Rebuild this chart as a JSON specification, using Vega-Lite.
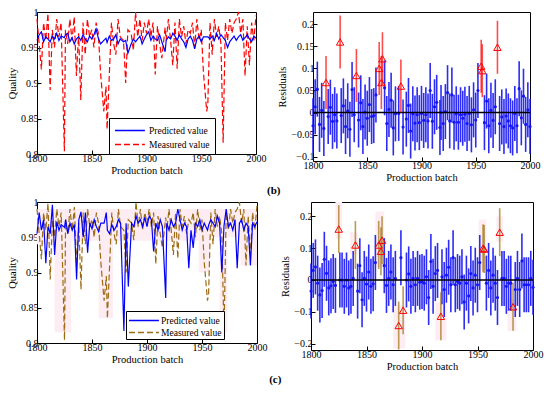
{
  "$schema": "https://vega.github.io/schema/vega-lite/v6.json",
  "background": "white",
  "padding": {"left": 7, "top": 6, "right": 4, "bottom": 2},
  "config": {
    "view": {"stroke": "black", "strokeWidth": 1},
    "font": "Liberation Serif",
    "axis": {
      "labelFont": "Liberation Serif", "titleFont": "Liberation Serif",
      "labelFontSize": 10, "titleFontSize": 10.5, "titleFontWeight": "normal",
      "labelColor": "black", "titleColor": "black", "grid": false, "domain": false,
      "tickColor": "black", "tickSize": -4, "labelPadding": 3, "titlePadding": 3,
      "labelFlush": false, "labelOverlap": false, "labelBound": false
    },
    "axisX": {"titlePadding": 2},
    "legend": {"labelFont": "Liberation Serif", "labelFontSize": 9.5, "labelColor": "black"}
  },
  "resolve": {"scale": {"color": "independent", "strokeDash": "independent"}, "legend": {"color": "independent", "strokeDash": "independent"}},
  "datasets": {
    "main": [
      {"b":1800,"m":0.990,"p1":0.960,"p2":0.955,"r1":-0.030,"r2":-0.035},
      {"b":1802,"m":0.955,"p1":0.968,"p2":0.985,"r1":0.013,"r2":0.030},
      {"b":1804,"m":0.919,"p1":0.972,"p2":0.960,"r1":0.053,"r2":0.041},
      {"b":1806,"m":0.985,"p1":0.958,"p2":0.975,"r1":-0.027,"r2":-0.010},
      {"b":1808,"m":0.960,"p1":0.965,"p2":0.913,"r1":0.005,"r2":-0.047},
      {"b":1810,"m":0.998,"p1":0.962,"p2":0.965,"r1":-0.036,"r2":-0.033},
      {"b":1812,"m":0.890,"p1":0.958,"p2":0.955,"r1":null,"r2":0.065},
      {"b":1814,"m":0.975,"p1":0.966,"p2":0.996,"r1":-0.009,"r2":0.021},
      {"b":1816,"m":0.950,"p1":0.962,"p2":0.925,"r1":0.012,"r2":-0.025},
      {"b":1818,"m":0.990,"p1":0.970,"p2":0.972,"r1":-0.020,"r2":-0.018},
      {"b":1820,"m":0.965,"p1":0.960,"p2":0.960,"r1":-0.005,"r2":-0.005},
      {"b":1822,"m":0.985,"p1":0.966,"p2":0.968,"r1":-0.019,"r2":-0.017},
      {"b":1825,"m":0.804,"p1":0.964,"p2":0.964,"r1":null,"r2":null},
      {"b":1826,"m":0.975,"p1":0.968,"p2":0.975,"r1":-0.007,"r2":0.000},
      {"b":1828,"m":0.955,"p1":0.970,"p2":0.955,"r1":0.015,"r2":0.000},
      {"b":1830,"m":0.990,"p1":0.958,"p2":0.970,"r1":-0.032,"r2":-0.020},
      {"b":1832,"m":0.960,"p1":0.964,"p2":0.960,"r1":0.004,"r2":0.000},
      {"b":1834,"m":0.993,"p1":0.955,"p2":0.968,"r1":-0.038,"r2":-0.025},
      {"b":1836,"m":0.910,"p1":0.962,"p2":0.890,"r1":0.052,"r2":-0.020},
      {"b":1838,"m":0.970,"p1":0.965,"p2":0.975,"r1":-0.005,"r2":0.005},
      {"b":1840,"m":0.876,"p1":0.960,"p2":0.986,"r1":null,"r2":null},
      {"b":1842,"m":0.985,"p1":0.968,"p2":0.950,"r1":-0.017,"r2":-0.035},
      {"b":1844,"m":0.940,"p1":0.962,"p2":0.985,"r1":0.022,"r2":0.045},
      {"b":1846,"m":0.990,"p1":0.958,"p2":0.928,"r1":-0.032,"r2":-0.062},
      {"b":1848,"m":0.965,"p1":0.966,"p2":0.970,"r1":0.001,"r2":0.005},
      {"b":1850,"m":0.975,"p1":0.962,"p2":0.962,"r1":-0.013,"r2":-0.013},
      {"b":1852,"m":0.950,"p1":0.968,"p2":0.975,"r1":0.018,"r2":0.025},
      {"b":1854,"m":0.985,"p1":0.976,"p2":0.965,"r1":-0.009,"r2":-0.020},
      {"b":1856,"m":0.970,"p1":0.963,"p2":0.958,"r1":-0.007,"r2":-0.012},
      {"b":1858,"m":0.915,"p1":0.955,"p2":0.970,"r1":0.040,"r2":0.055},
      {"b":1861,"m":0.860,"p1":0.960,"p2":0.970,"r1":null,"r2":null},
      {"b":1863,"m":0.895,"p1":0.963,"p2":0.985,"r1":null,"r2":null},
      {"b":1864,"m":0.835,"p1":0.957,"p2":0.960,"r1":null,"r2":null},
      {"b":1866,"m":0.910,"p1":0.966,"p2":0.955,"r1":0.056,"r2":0.045},
      {"b":1868,"m":0.985,"p1":0.960,"p2":0.968,"r1":-0.025,"r2":-0.017},
      {"b":1870,"m":0.955,"p1":0.962,"p2":0.960,"r1":0.007,"r2":0.005},
      {"b":1872,"m":0.940,"p1":0.968,"p2":0.965,"r1":0.028,"r2":0.025},
      {"b":1874,"m":0.990,"p1":0.955,"p2":0.975,"r1":-0.035,"r2":-0.015},
      {"b":1876,"m":0.965,"p1":0.962,"p2":0.970,"r1":-0.003,"r2":0.005},
      {"b":1879,"m":0.960,"p1":0.958,"p2":0.817,"r1":-0.002,"r2":null},
      {"b":1881,"m":0.900,"p1":0.960,"p2":0.970,"r1":null,"r2":0.070},
      {"b":1883,"m":0.975,"p1":0.942,"p2":0.880,"r1":-0.033,"r2":null},
      {"b":1886,"m":0.970,"p1":0.955,"p2":0.970,"r1":-0.015,"r2":0.000},
      {"b":1888,"m":0.946,"p1":0.962,"p2":0.965,"r1":0.016,"r2":0.019},
      {"b":1890,"m":1.000,"p1":0.958,"p2":0.980,"r1":-0.042,"r2":-0.020},
      {"b":1892,"m":0.965,"p1":0.962,"p2":0.970,"r1":-0.003,"r2":0.005},
      {"b":1894,"m":0.990,"p1":0.966,"p2":0.975,"r1":-0.024,"r2":-0.015},
      {"b":1896,"m":0.960,"p1":0.955,"p2":0.965,"r1":-0.005,"r2":0.005},
      {"b":1898,"m":0.985,"p1":0.962,"p2":0.978,"r1":-0.023,"r2":-0.007},
      {"b":1900,"m":0.970,"p1":0.968,"p2":0.965,"r1":-0.002,"r2":-0.005},
      {"b":1902,"m":0.990,"p1":0.972,"p2":0.980,"r1":-0.018,"r2":-0.010},
      {"b":1904,"m":0.965,"p1":0.960,"p2":0.975,"r1":-0.005,"r2":0.010},
      {"b":1906,"m":0.985,"p1":0.966,"p2":0.930,"r1":-0.019,"r2":-0.055},
      {"b":1908,"m":0.912,"p1":0.962,"p2":0.970,"r1":0.050,"r2":0.058},
      {"b":1910,"m":0.980,"p1":0.960,"p2":0.960,"r1":-0.020,"r2":-0.020},
      {"b":1912,"m":0.955,"p1":0.968,"p2":0.975,"r1":0.013,"r2":0.020},
      {"b":1914,"m":0.935,"p1":0.958,"p2":0.965,"r1":0.023,"r2":0.030},
      {"b":1917,"m":0.978,"p1":0.944,"p2":0.864,"r1":-0.034,"r2":null},
      {"b":1918,"m":0.960,"p1":0.960,"p2":0.970,"r1":0.000,"r2":0.010},
      {"b":1920,"m":0.990,"p1":0.965,"p2":0.960,"r1":-0.025,"r2":-0.030},
      {"b":1922,"m":0.960,"p1":0.962,"p2":0.975,"r1":0.002,"r2":0.015},
      {"b":1924,"m":0.925,"p1":0.970,"p2":0.965,"r1":0.045,"r2":0.040},
      {"b":1926,"m":0.985,"p1":0.966,"p2":0.970,"r1":-0.019,"r2":-0.015},
      {"b":1928,"m":0.920,"p1":0.960,"p2":0.990,"r1":0.040,"r2":0.070},
      {"b":1930,"m":0.990,"p1":0.968,"p2":0.975,"r1":-0.022,"r2":-0.015},
      {"b":1932,"m":0.965,"p1":0.962,"p2":0.960,"r1":-0.003,"r2":-0.005},
      {"b":1934,"m":0.980,"p1":0.958,"p2":0.970,"r1":-0.022,"r2":-0.010},
      {"b":1936,"m":0.955,"p1":0.950,"p2":0.965,"r1":-0.005,"r2":0.010},
      {"b":1938,"m":0.975,"p1":0.962,"p2":0.906,"r1":-0.013,"r2":-0.069},
      {"b":1940,"m":0.970,"p1":0.966,"p2":0.960,"r1":-0.004,"r2":-0.010},
      {"b":1942,"m":0.985,"p1":0.960,"p2":0.935,"r1":-0.025,"r2":-0.050},
      {"b":1944,"m":0.950,"p1":0.948,"p2":0.970,"r1":-0.002,"r2":0.020},
      {"b":1946,"m":0.990,"p1":0.962,"p2":0.965,"r1":-0.028,"r2":-0.025},
      {"b":1948,"m":0.960,"p1":0.966,"p2":0.975,"r1":0.006,"r2":0.015},
      {"b":1950,"m":0.975,"p1":0.958,"p2":0.960,"r1":-0.017,"r2":-0.015},
      {"b":1952,"m":0.915,"p1":0.965,"p2":0.970,"r1":0.050,"r2":0.055},
      {"b":1955,"m":0.860,"p1":0.965,"p2":0.960,"r1":null,"r2":null},
      {"b":1956,"m":0.870,"p1":0.965,"p2":0.967,"r1":null,"r2":null},
      {"b":1958,"m":0.985,"p1":0.962,"p2":0.975,"r1":-0.023,"r2":-0.010},
      {"b":1960,"m":0.940,"p1":0.966,"p2":0.970,"r1":0.026,"r2":0.030},
      {"b":1962,"m":0.990,"p1":0.960,"p2":0.965,"r1":-0.030,"r2":-0.025},
      {"b":1964,"m":0.965,"p1":0.970,"p2":0.980,"r1":0.005,"r2":0.015},
      {"b":1966,"m":0.980,"p1":0.962,"p2":0.970,"r1":-0.018,"r2":-0.010},
      {"b":1968,"m":0.955,"p1":0.968,"p2":0.900,"r1":0.013,"r2":-0.055},
      {"b":1970,"m":0.816,"p1":0.964,"p2":0.966,"r1":null,"r2":null},
      {"b":1972,"m":0.985,"p1":0.960,"p2":0.990,"r1":-0.025,"r2":0.005},
      {"b":1974,"m":0.960,"p1":0.950,"p2":0.965,"r1":-0.010,"r2":0.005},
      {"b":1976,"m":0.990,"p1":0.958,"p2":0.970,"r1":-0.032,"r2":-0.020},
      {"b":1978,"m":0.970,"p1":0.962,"p2":0.960,"r1":-0.008,"r2":-0.010},
      {"b":1980,"m":0.985,"p1":0.966,"p2":0.975,"r1":-0.019,"r2":-0.010},
      {"b":1982,"m":0.990,"p1":0.960,"p2":0.906,"r1":-0.030,"r2":null},
      {"b":1984,"m":1.000,"p1":0.965,"p2":0.970,"r1":-0.035,"r2":-0.030},
      {"b":1986,"m":0.970,"p1":0.968,"p2":0.975,"r1":-0.002,"r2":0.005},
      {"b":1988,"m":0.990,"p1":0.960,"p2":0.960,"r1":-0.030,"r2":-0.030},
      {"b":1990,"m":0.910,"p1":0.964,"p2":0.970,"r1":0.054,"r2":0.060},
      {"b":1992,"m":0.980,"p1":0.968,"p2":0.965,"r1":-0.012,"r2":-0.015},
      {"b":1994,"m":0.925,"p1":0.962,"p2":0.910,"r1":0.037,"r2":-0.015},
      {"b":1996,"m":0.985,"p1":0.958,"p2":0.970,"r1":-0.027,"r2":-0.015},
      {"b":1998,"m":0.960,"p1":0.966,"p2":0.965,"r1":0.006,"r2":0.005},
      {"b":2000,"m":0.995,"p1":0.963,"p2":0.972,"r1":-0.032,"r2":-0.023}
    ],
    "out1": [
      {"b":1812,"r1":0.068},{"b":1825,"r1":0.160},{"b":1840,"r1":0.084},{"b":1861,"r1":0.100},
      {"b":1863,"r1":0.068},{"b":1864,"r1":0.122},{"b":1881,"r1":0.060},{"b":1955,"r1":0.105},
      {"b":1956,"r1":0.095},{"b":1970,"r1":0.148}
    ],
    "out2": [
      {"b":1825,"r2":0.160},{"b":1840,"r2":0.110},{"b":1861,"r2":0.110},{"b":1863,"r2":0.090},
      {"b":1864,"r2":0.125},{"b":1879,"r2":-0.143},{"b":1883,"r2":-0.095},{"b":1917,"r2":-0.114},
      {"b":1955,"r2":0.100},{"b":1956,"r2":0.097},{"b":1970,"r2":0.150},{"b":1982,"r2":-0.084}
    ],
    "pink3": [
      {"b":1800,"b2":1816,"value":0.94,"value2":0.99},
      {"b":1816,"b2":1831,"value":0.815,"value2":0.99},
      {"b":1831,"b2":1856,"value":0.945,"value2":0.99},
      {"b":1856,"b2":1869,"value":0.835,"value2":0.99},
      {"b":1869,"b2":1947,"value":0.945,"value2":0.99},
      {"b":1947,"b2":1957,"value":0.90,"value2":0.99},
      {"b":1957,"b2":1966,"value":0.95,"value2":0.99},
      {"b":1966,"b2":1973,"value":0.815,"value2":0.99},
      {"b":1973,"b2":1985,"value":0.95,"value2":0.99},
      {"b":1985,"b2":2000,"value":0.91,"value2":0.99}
    ],
    "pink4": [
      {"b":1822,"b2":1828,"r2":0.13,"r2b":0.245},
      {"b":1835,"b2":1842,"r2":0.08,"r2b":0.15},
      {"b":1858,"b2":1866,"r2":0.04,"r2b":0.215},
      {"b":1874,"b2":1885,"r2":-0.215,"r2b":-0.08},
      {"b":1912,"b2":1922,"r2":-0.19,"r2b":-0.07},
      {"b":1951,"b2":1958,"r2":0.03,"r2b":0.19},
      {"b":1967,"b2":1973,"r2":0.12,"r2b":0.2},
      {"b":1977,"b2":1985,"r2":-0.16,"r2b":-0.06}
    ],
    "zero": [{"z": 0}]
  },
  "spacing": 0,
  "vconcat": [
    {
      "spacing": 10,
      "resolve": {"scale": {"color": "independent", "strokeDash": "independent"}, "legend": {"color": "independent", "strokeDash": "independent"}},
      "title": {"text": "(b)", "orient": "bottom", "anchor": "middle", "font": "Liberation Serif", "fontSize": 11, "fontWeight": "bold", "offset": 2},
      "hconcat": [
        {
          "width": 219, "height": 142,
          "data": {"name": "main"},
          "transform": [{"fold": ["m", "p1"], "as": ["series", "value"]}],
          "mark": {"type": "line", "strokeWidth": 1.2},
          "encoding": {
            "x": {"field": "b", "type": "quantitative", "scale": {"domain": [1800, 2000], "nice": false, "zero": false}, "axis": {"title": "Production batch", "values": [1800, 1850, 1900, 1950, 2000], "format": "d"}},
            "y": {"field": "value", "type": "quantitative", "scale": {"domain": [0.8, 1], "nice": false, "zero": false}, "axis": {"title": "Quality", "values": [0.8, 0.85, 0.9, 0.95, 1], "format": "~g"}},
            "color": {"field": "series", "type": "nominal", "scale": {"domain": ["p1", "m"], "range": ["#0000ff", "#ff0000"]},
              "legend": {"title": null, "orient": "none", "legendX": 72, "legendY": 106, "strokeColor": "black", "fillColor": "white", "padding": 5, "rowPadding": 2, "labelOffset": 20,
                "labelExpr": "datum.label == 'p1' ? 'Predicted value' : 'Measured value'", "symbolType": "M-1,0H3.6", "symbolSize": 169, "symbolStrokeWidth": 1.5,
                "encode": {"symbols": {"update": {"strokeDash": {"signal": "datum.value == 'm' ? [6, 3] : [1, 0]"}}}}}},
            "strokeDash": {"field": "series", "type": "nominal", "scale": {"domain": ["p1", "m"], "range": [[1, 0], [6, 3]]}, "legend": null}
          }
        },
        {
          "width": 217, "height": 149,
          "layer": [
            {
              "data": {"name": "main"},
              "mark": {"type": "tick", "orient": "vertical", "size": 55, "thickness": 1.6, "color": "#1515f5", "opacity": 0.9},
              "encoding": {
                "x": {"field": "b", "type": "quantitative", "scale": {"domain": [1800, 2000], "nice": false, "zero": false}, "axis": {"title": "Production batch", "values": [1800, 1850, 1900, 1950, 2000], "format": "d"}},
                "y": {"field": "r1", "type": "quantitative", "scale": {"domain": [-0.11, 0.228], "nice": false, "zero": false}, "axis": {"title": "Residuals", "values": [-0.1, -0.05, 0, 0.05, 0.1, 0.15, 0.2], "format": "~g"}}
              }
            },
            {
              "data": {"name": "main"},
              "mark": {"type": "point", "filled": true, "size": 10, "color": "#1515f5", "opacity": 1},
              "encoding": {
                "x": {"field": "b", "type": "quantitative", "scale": {"domain": [1800, 2000], "nice": false, "zero": false}, "axis": {"title": "Production batch", "values": [1800, 1850, 1900, 1950, 2000], "format": "d"}},
                "y": {"field": "r1", "type": "quantitative", "scale": {"domain": [-0.11, 0.228], "nice": false, "zero": false}, "axis": {"title": "Residuals", "values": [-0.1, -0.05, 0, 0.05, 0.1, 0.15, 0.2], "format": "~g"}}
              }
            },
            {
              "data": {"name": "zero"},
              "mark": {"type": "rule", "color": "black", "strokeWidth": 1.3},
              "encoding": {
                "y": {"field": "z", "type": "quantitative", "scale": {"domain": [-0.11, 0.228], "nice": false, "zero": false}, "axis": {"title": "Residuals", "values": [-0.1, -0.05, 0, 0.05, 0.1, 0.15, 0.2], "format": "~g"}}
              }
            },
            {
              "data": {"name": "out1"},
              "mark": {"type": "tick", "orient": "vertical", "size": 53, "thickness": 1.6, "color": "#ff0000"},
              "encoding": {
                "x": {"field": "b", "type": "quantitative", "scale": {"domain": [1800, 2000], "nice": false, "zero": false}, "axis": {"title": "Production batch", "values": [1800, 1850, 1900, 1950, 2000], "format": "d"}},
                "y": {"field": "r1", "type": "quantitative", "scale": {"domain": [-0.11, 0.228], "nice": false, "zero": false}, "axis": {"title": "Residuals", "values": [-0.1, -0.05, 0, 0.05, 0.1, 0.15, 0.2], "format": "~g"}}
              }
            },
            {
              "data": {"name": "out1"},
              "mark": {"type": "point", "shape": "triangle-up", "filled": false, "size": 55, "color": "#ff0000", "strokeWidth": 1, "opacity": 1},
              "encoding": {
                "x": {"field": "b", "type": "quantitative", "scale": {"domain": [1800, 2000], "nice": false, "zero": false}, "axis": {"title": "Production batch", "values": [1800, 1850, 1900, 1950, 2000], "format": "d"}},
                "y": {"field": "r1", "type": "quantitative", "scale": {"domain": [-0.11, 0.228], "nice": false, "zero": false}, "axis": {"title": "Residuals", "values": [-0.1, -0.05, 0, 0.05, 0.1, 0.15, 0.2], "format": "~g"}}
              }
            }
          ]
        }
      ]
    },
    {
      "spacing": 12,
      "resolve": {"scale": {"color": "independent", "strokeDash": "independent"}, "legend": {"color": "independent", "strokeDash": "independent"}},
      "title": {"text": "(c)", "orient": "bottom", "anchor": "middle", "font": "Liberation Serif", "fontSize": 11, "fontWeight": "bold", "offset": 2},
      "hconcat": [
        {
          "width": 220, "height": 141,
          "layer": [
            {
              "data": {"name": "pink3"},
              "mark": {"type": "rect", "color": "#fdedf3"},
              "encoding": {
                "x": {"field": "b", "type": "quantitative", "scale": {"domain": [1800, 2000], "nice": false, "zero": false}, "axis": {"title": "Production batch", "values": [1800, 1850, 1900, 1950, 2000], "format": "d"}},
                "x2": {"field": "b2"},
                "y": {"field": "value", "type": "quantitative", "scale": {"domain": [0.8, 1], "nice": false, "zero": false}, "axis": {"title": "Quality", "values": [0.8, 0.85, 0.9, 0.95, 1], "format": "~g"}},
                "y2": {"field": "value2"}
              }
            },
            {
              "data": {"name": "main"},
              "transform": [{"fold": ["m", "p2"], "as": ["series", "value"]}],
              "mark": {"type": "line", "strokeWidth": 1.2},
              "encoding": {
                "x": {"field": "b", "type": "quantitative", "scale": {"domain": [1800, 2000], "nice": false, "zero": false}, "axis": {"title": "Production batch", "values": [1800, 1850, 1900, 1950, 2000], "format": "d"}},
                "y": {"field": "value", "type": "quantitative", "scale": {"domain": [0.8, 1], "nice": false, "zero": false}, "axis": {"title": "Quality", "values": [0.8, 0.85, 0.9, 0.95, 1], "format": "~g"}},
                "color": {"field": "series", "type": "nominal", "scale": {"domain": ["p2", "m"], "range": ["#0000ff", "#9c6a12"]},
                  "legend": {"title": null, "orient": "none", "legendX": 89, "legendY": 109, "strokeColor": "black", "fillColor": "white", "padding": 2, "rowPadding": 0, "labelOffset": 18,
                    "labelExpr": "datum.label == 'p2' ? 'Predicted value' : 'Measured value'", "symbolType": "M-1,0H3.6", "symbolSize": 169, "symbolStrokeWidth": 1.5,
                    "encode": {"symbols": {"update": {"strokeDash": {"signal": "datum.value == 'm' ? [6, 3] : [1, 0]"}}}}}},
                "strokeDash": {"field": "series", "type": "nominal", "scale": {"domain": ["p2", "m"], "range": [[1, 0], [6, 3]]}, "legend": null}
              }
            }
          ]
        },
        {
          "width": 222, "height": 148,
          "layer": [
            {
              "data": {"name": "pink4"},
              "mark": {"type": "rect", "color": "#fdedf3"},
              "encoding": {
                "x": {"field": "b", "type": "quantitative", "scale": {"domain": [1800, 2000], "nice": false, "zero": false}, "axis": {"title": "Production batch", "values": [1800, 1850, 1900, 1950, 2000], "format": "d"}},
                "x2": {"field": "b2"},
                "y": {"field": "r2", "type": "quantitative", "scale": {"domain": [-0.22, 0.245], "nice": false, "zero": false}, "axis": {"title": "Residuals", "values": [-0.2, -0.1, 0, 0.1, 0.2], "format": "~g"}},
                "y2": {"field": "r2b"}
              }
            },
            {
              "data": {"name": "main"},
              "mark": {"type": "tick", "orient": "vertical", "size": 55, "thickness": 1.6, "color": "#1515f5", "opacity": 0.9},
              "encoding": {
                "x": {"field": "b", "type": "quantitative", "scale": {"domain": [1800, 2000], "nice": false, "zero": false}, "axis": {"title": "Production batch", "values": [1800, 1850, 1900, 1950, 2000], "format": "d"}},
                "y": {"field": "r2", "type": "quantitative", "scale": {"domain": [-0.22, 0.245], "nice": false, "zero": false}, "axis": {"title": "Residuals", "values": [-0.2, -0.1, 0, 0.1, 0.2], "format": "~g"}}
              }
            },
            {
              "data": {"name": "main"},
              "mark": {"type": "point", "filled": true, "size": 10, "color": "#1515f5", "opacity": 1},
              "encoding": {
                "x": {"field": "b", "type": "quantitative", "scale": {"domain": [1800, 2000], "nice": false, "zero": false}, "axis": {"title": "Production batch", "values": [1800, 1850, 1900, 1950, 2000], "format": "d"}},
                "y": {"field": "r2", "type": "quantitative", "scale": {"domain": [-0.22, 0.245], "nice": false, "zero": false}, "axis": {"title": "Residuals", "values": [-0.2, -0.1, 0, 0.1, 0.2], "format": "~g"}}
              }
            },
            {
              "data": {"name": "zero"},
              "mark": {"type": "rule", "color": "black", "strokeWidth": 1.3},
              "encoding": {
                "y": {"field": "z", "type": "quantitative", "scale": {"domain": [-0.22, 0.245], "nice": false, "zero": false}, "axis": {"title": "Residuals", "values": [-0.2, -0.1, 0, 0.1, 0.2], "format": "~g"}}
              }
            },
            {
              "data": {"name": "out2"},
              "mark": {"type": "tick", "orient": "vertical", "size": 48, "thickness": 1.6, "color": "#a0700f"},
              "encoding": {
                "x": {"field": "b", "type": "quantitative", "scale": {"domain": [1800, 2000], "nice": false, "zero": false}, "axis": {"title": "Production batch", "values": [1800, 1850, 1900, 1950, 2000], "format": "d"}},
                "y": {"field": "r2", "type": "quantitative", "scale": {"domain": [-0.22, 0.245], "nice": false, "zero": false}, "axis": {"title": "Residuals", "values": [-0.2, -0.1, 0, 0.1, 0.2], "format": "~g"}}
              }
            },
            {
              "data": {"name": "out2"},
              "mark": {"type": "point", "shape": "triangle-up", "filled": false, "size": 55, "color": "#ff0000", "strokeWidth": 1, "opacity": 1},
              "encoding": {
                "x": {"field": "b", "type": "quantitative", "scale": {"domain": [1800, 2000], "nice": false, "zero": false}, "axis": {"title": "Production batch", "values": [1800, 1850, 1900, 1950, 2000], "format": "d"}},
                "y": {"field": "r2", "type": "quantitative", "scale": {"domain": [-0.22, 0.245], "nice": false, "zero": false}, "axis": {"title": "Residuals", "values": [-0.2, -0.1, 0, 0.1, 0.2], "format": "~g"}}
              }
            }
          ]
        }
      ]
    }
  ]
}
